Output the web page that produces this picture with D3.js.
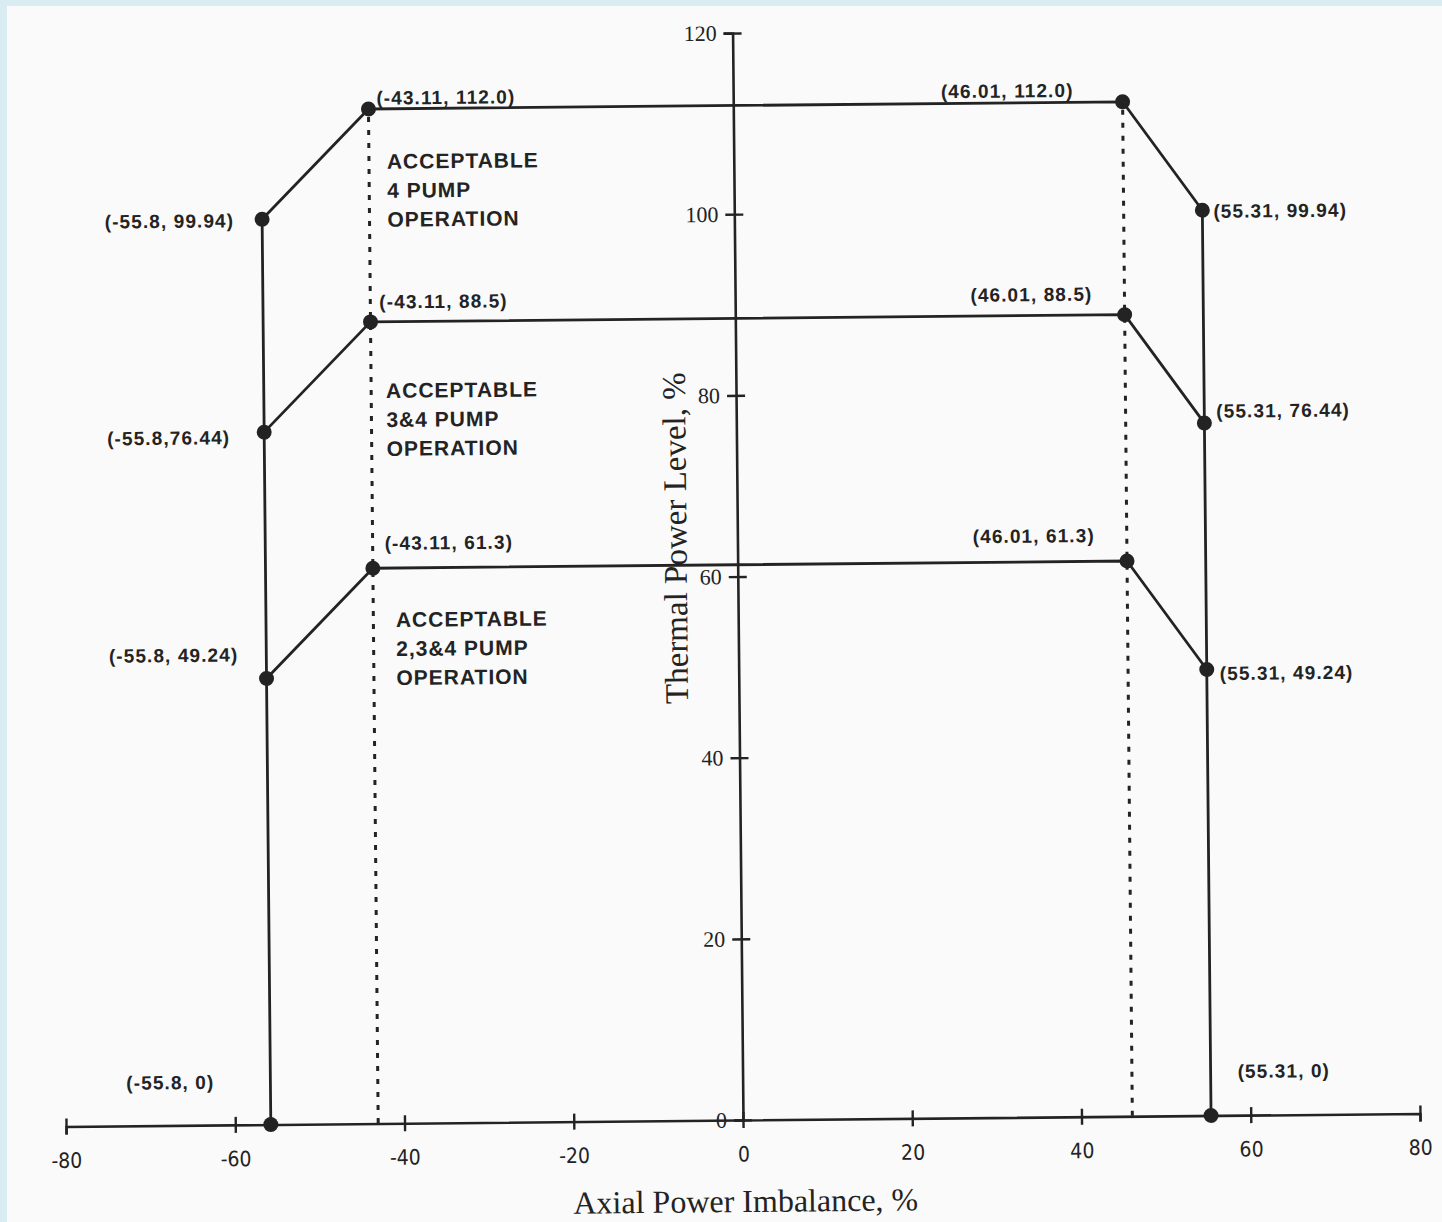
<!DOCTYPE html>
<html>
<head>
<meta charset="utf-8">
<script src="https://cdn.jsdelivr.net/npm/d3@7"></script>
<style>
  html, body { margin: 0; padding: 0; background: #d8ecf1; }
  #vis { width: 1442px; height: 1222px; }
</style>
</head>
<body>
<div id="vis"></div>
<script>
// Axis ticks
const xTicks = [-80, -60, -40, -20, 0, 20, 40, 60, 80];
const yTicks = [0, 20, 40, 60, 80, 100, 120];

// Envelope lines (Axial Power Imbalance %, Thermal Power Level %)
const envelope4 = [[-55.8, 0], [-55.8, 99.94], [-43.11, 112.0], [46.01, 112.0], [55.31, 99.94], [55.31, 0]];
const envelope34 = [[-55.8, 76.44], [-43.11, 88.5], [46.01, 88.5], [55.31, 76.44]];
const envelope234 = [[-55.8, 49.24], [-43.11, 61.3], [46.01, 61.3], [55.31, 49.24]];

// Point labels, same order as the points above
const labels4 = ["(-55.8, 0)", "(-55.8, 99.94)", "(-43.11, 112.0)", "(46.01, 112.0)", "(55.31, 99.94)", "(55.31, 0)"];
const labels34 = ["(-55.8,76.44)", "(-43.11, 88.5)", "(46.01, 88.5)", "(55.31, 76.44)"];
const labels234 = ["(-55.8, 49.24)", "(-43.11, 61.3)", "(46.01, 61.3)", "(55.31, 49.24)"];

// Dotted verticals
const dottedX = [-43.11, 46.01];
const dottedTop = 112.0;

// Region texts
const regionTexts = [
  ["ACCEPTABLE", "4 PUMP", "OPERATION"],
  ["ACCEPTABLE", "3&4 PUMP", "OPERATION"],
  ["ACCEPTABLE", "2,3&4 PUMP", "OPERATION"]
];

// ---- layout (pixel offsets / anchors, not data) ----
const place4 = [[-56, -43, "end"], [-28, 1, "end"], [8, -11, "start"], [-49, -12, "end"], [11, 1, "start"], [27, -44, "start"]];
const place34 = [[-34, 5, "end"], [9, -20, "start"], [-32, -21, "end"], [12, -12, "start"]];
const place234 = [[-28, -24, "end"], [12, -25, "start"], [-32, -26, "end"], [13, 4, "start"]];
const regionAnchor = [[-41.0, 106.2], [-41.35, 80.9], [-40.45, 55.6]];

const width = 1442, height = 1222;
const ink = "#232323";
const labelFont = "'Liberation Sans', Arial, sans-serif";
const serifFont = "'Liberation Serif', 'Times New Roman', serif";
const narrowFont = "'Liberation Sans Narrow', 'Arial Narrow', 'DejaVu Sans Condensed', sans-serif";

const svg = d3.select("#vis").append("svg")
  .attr("width", width)
  .attr("height", height);

// paper
svg.append("rect")
  .attr("x", 7).attr("y", 6)
  .attr("width", width - 7).attr("height", height - 6)
  .attr("fill", "#fafafa");

const x = d3.scaleLinear().domain([-80, 80]).range([66, 1420]);
const y = d3.scaleLinear().domain([0, 120]).range([1120, 33]);

// scanned page is slightly tilted
const g = svg.append("g")
  .attr("transform", `rotate(-0.55, ${x(0)}, ${y(0)})`);

// X axis
const xAxis = g.append("g")
  .attr("transform", `translate(0,${y(0)})`)
  .call(d3.axisBottom(x).tickValues(xTicks).tickSizeOuter(0).tickSize(8).tickFormat(d3.format("d")));
xAxis.select(".domain").attr("stroke", ink).attr("stroke-width", 2.6);
xAxis.selectAll(".tick line").attr("y1", -8).attr("y2", 8).attr("stroke", ink).attr("stroke-width", 2.4);
xAxis.selectAll(".tick text")
  .attr("y", 34).attr("dy", "0.35em")
  .attr("fill", ink)
  .style("font-family", narrowFont)
  .style("font-size", "21px")
  .text(d => d < 0 ? "-" + Math.abs(d) : d);

// Y axis
const yAxis = g.append("g")
  .attr("transform", `translate(${x(0)},0)`)
  .call(d3.axisLeft(y).tickValues(yTicks).tickSizeOuter(0).tickSize(9).tickPadding(18));
yAxis.select(".domain").attr("stroke", ink).attr("stroke-width", 2.6);
yAxis.selectAll(".tick line").attr("x1", -9).attr("x2", 9).attr("stroke", ink).attr("stroke-width", 2.4);
yAxis.selectAll(".tick text")
  .attr("x", -16)
  .attr("fill", ink)
  .style("font-family", serifFont)
  .style("font-size", "22px");

// Axis titles
g.append("text")
  .attr("x", x(0) + 2)
  .attr("y", 1212)
  .attr("text-anchor", "middle")
  .attr("fill", ink)
  .style("font-family", serifFont)
  .style("font-size", "32px")
  .text("Axial Power Imbalance, %");

g.append("text")
  .attr("transform", `translate(692, ${y(64.3)}) rotate(-90)`)
  .attr("text-anchor", "middle")
  .attr("fill", ink)
  .style("font-family", serifFont)
  .style("font-size", "33px")
  .text("Thermal Power Level, %");

// Dotted verticals
dottedX.forEach(v => {
  g.append("line")
    .attr("x1", x(v)).attr("x2", x(v))
    .attr("y1", y(dottedTop) + 8).attr("y2", y(0))
    .attr("stroke", ink)
    .attr("stroke-width", 3)
    .attr("stroke-dasharray", "5,8");
});

// Envelope lines, dots and labels
const line = d3.line().x(d => x(d[0])).y(d => y(d[1]));

[[envelope4, labels4, place4], [envelope34, labels34, place34], [envelope234, labels234, place234]]
  .forEach(([pts, texts, place]) => {
    g.append("path")
      .datum(pts)
      .attr("d", line)
      .attr("fill", "none")
      .attr("stroke", ink)
      .attr("stroke-width", 2.8)
      .attr("stroke-linejoin", "round");

    g.selectAll(null)
      .data(pts)
      .enter()
      .append("circle")
      .attr("cx", d => x(d[0]))
      .attr("cy", d => y(d[1]))
      .attr("r", 7.5)
      .attr("fill", ink);

    g.selectAll(null)
      .data(pts)
      .enter()
      .append("text")
      .attr("x", (d, i) => x(d[0]) + place[i][0])
      .attr("y", (d, i) => y(d[1]) + place[i][1])
      .attr("dy", "0.35em")
      .attr("text-anchor", (d, i) => place[i][2])
      .attr("fill", ink)
      .style("font-family", labelFont)
      .style("font-weight", "bold")
      .style("font-size", "19px")
      .style("letter-spacing", "1.1px")
      .text((d, i) => texts[i]);
  });

// Region texts
regionTexts.forEach((lines, i) => {
  const t = g.append("text")
    .attr("x", x(regionAnchor[i][0]))
    .attr("y", y(regionAnchor[i][1]))
    .attr("fill", ink)
    .style("font-family", labelFont)
    .style("font-weight", "bold")
    .style("font-size", "21px")
    .style("letter-spacing", "1px");
  lines.forEach((s, j) => {
    t.append("tspan")
      .attr("x", x(regionAnchor[i][0]))
      .attr("dy", j === 0 ? "0.35em" : "29px")
      .text(s);
  });
});
</script>
</body>
</html>
